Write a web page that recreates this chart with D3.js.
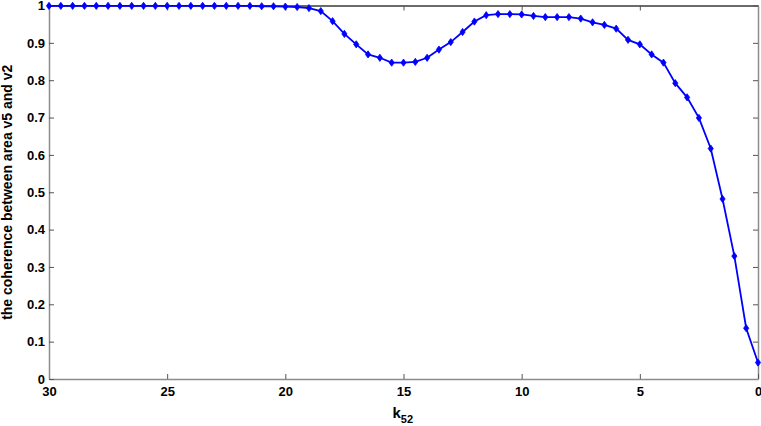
<!DOCTYPE html>
<html lang="en">
  <head>
    <meta charset="utf-8">
    <title>Coherence v5 / v2</title>
    <style>
      body { margin: 0; background: #fff; }
      svg { display: block; font-family: "Liberation Sans", Arial, sans-serif; font-weight: bold; }
      .axis text { font-size: 13px; fill: #000; }
      .axis path { stroke: #8c8c8c; stroke-width: 1.5; }
      .axis line { stroke: #555; }
      .border path { stroke: #8c8c8c; }
      .top path { stroke: #3a3a3a; }
    </style>
  </head>

  <body>
    <script src="https://cdn.jsdelivr.net/npm/d3@7"></script>
    <script>

    // k52 values along the (reversed) x axis
    var kValues = [30, 29.5, 29, 28.5, 28, 27.5, 27, 26.5, 26, 25.5,
                   25, 24.5, 24, 23.5, 23, 22.5, 22, 21.5, 21, 20.5,
                   20, 19.5, 19, 18.5, 18, 17.5, 17, 16.5, 16, 15.5,
                   15, 14.5, 14, 13.5, 13, 12.5, 12, 11.5, 11, 10.5,
                   10, 9.5, 9, 8.5, 8, 7.5, 7, 6.5, 6, 5.5,
                   5, 4.5, 4, 3.5, 3, 2.5, 2, 1.5, 1, 0.5, 0];

    // coherence between area v5 and v2
    var coherence = [0.999, 0.999, 0.999, 0.999, 0.999, 0.999, 0.999, 0.999, 0.999, 0.999,
                     0.999, 0.999, 0.999, 0.999, 0.999, 0.999, 0.999, 0.999, 0.998, 0.998,
                     0.997, 0.996, 0.993, 0.985, 0.958, 0.924, 0.896, 0.869, 0.860, 0.847,
                     0.847, 0.849, 0.860, 0.882, 0.902, 0.929, 0.957, 0.974, 0.977, 0.977,
                     0.976, 0.972, 0.969, 0.969, 0.969, 0.965, 0.955, 0.948, 0.938, 0.908,
                     0.896, 0.869, 0.847, 0.792, 0.754, 0.699, 0.617, 0.482, 0.329, 0.136, 0.044];

    var xTicks = [30, 25, 20, 15, 10, 5, 0],
        yTicks = [0, 0.1, 0.2, 0.3, 0.4, 0.5, 0.6, 0.7, 0.8, 0.9, 1];

    var w = 761, h = 426,
        plotLeft = 49, plotRight = 758, plotTop = 5.5, plotBottom = 379;

    var data = kValues.map(function(k, i) { return {k: k, v: coherence[i]}; });

    var x = d3.scaleLinear().domain([30, 0]).range([plotLeft, plotRight]),
        y = d3.scaleLinear().domain([0, 1]).range([plotBottom, plotTop]);

    var svg = d3.select("body").append("svg")
        .attr("width", w)
        .attr("height", h);

    // frame: top and right sides, ticks only
    svg.append("g")
        .attr("class", "axis border top")
        .attr("transform", "translate(0," + plotTop + ")")
        .call(d3.axisTop(x).tickValues(xTicks).tickSize(-5).tickSizeOuter(0).tickFormat(""));

    svg.append("g")
        .attr("class", "axis border")
        .attr("transform", "translate(" + plotRight + ",0)")
        .call(d3.axisRight(y).tickValues(yTicks).tickSize(-5).tickSizeOuter(0).tickFormat(""));

    svg.append("g")
        .attr("class", "axis")
        .attr("transform", "translate(0," + plotBottom + ")")
        .call(d3.axisBottom(x).tickValues(xTicks).tickSize(-5).tickSizeOuter(0).tickPadding(8).tickFormat(d3.format("d")));

    svg.append("g")
        .attr("class", "axis")
        .attr("transform", "translate(" + plotLeft + ",0)")
        .call(d3.axisLeft(y).tickValues(yTicks).tickSize(-5).tickSizeOuter(0).tickPadding(4).tickFormat(function(d) { return d === 0 || d === 1 ? d : d.toFixed(1); }));

    // the series
    var line = d3.line()
        .x(function(d) { return x(d.k); })
        .y(function(d) { return y(d.v); });

    svg.append("path")
        .datum(data)
        .attr("fill", "none")
        .attr("stroke", "#0000ff")
        .attr("stroke-width", 1.8)
        .attr("d", line);

    svg.selectAll(".pt")
        .data(data)
      .enter().append("path")
        .attr("class", "pt")
        .attr("transform", function(d) { return "translate(" + x(d.k) + "," + y(d.v) + ")"; })
        .attr("d", "M0,-3.6L2.6,0L0,3.6L-2.6,0Z")
        .attr("fill", "#0000ff")
        .attr("stroke", "#0000ff")
        .attr("stroke-width", 0.8);

    // labels
    svg.append("text")
        .attr("transform", "translate(12," + (plotTop + plotBottom) / 2 + ")rotate(-90)")
        .attr("text-anchor", "middle")
        .attr("font-size", "14px")
        .text("the coherence between area v5 and v2");

    var xl = svg.append("text")
        .attr("x", (plotLeft + plotRight) / 2 - 11)
        .attr("y", 418)
        .attr("font-size", "15px");
    xl.append("tspan").text("k");
    xl.append("tspan").attr("font-size", "11px").attr("dy", 5).text("52");

    </script>
  </body>
</html>
